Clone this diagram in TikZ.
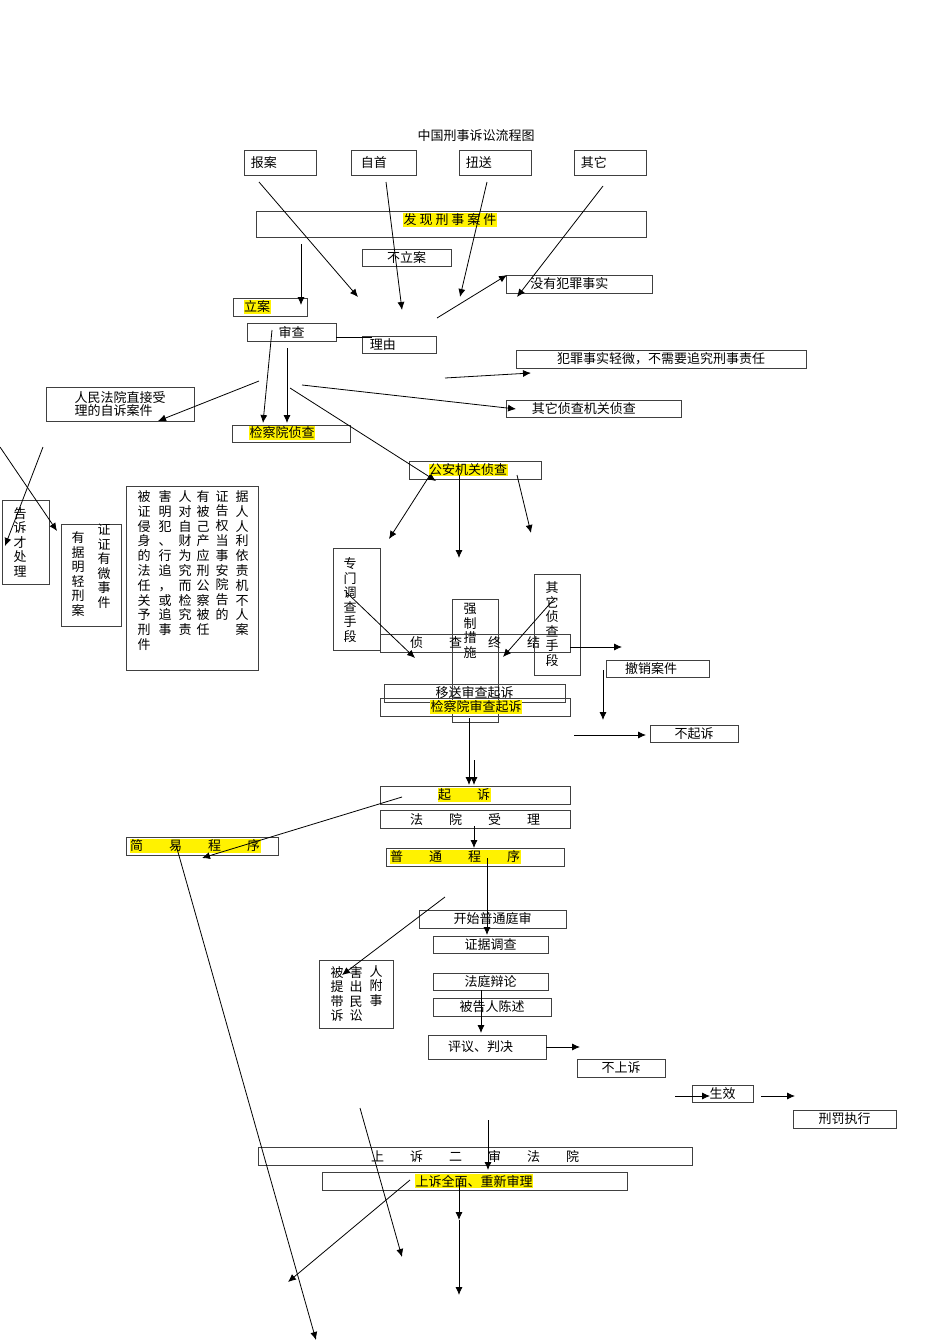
\documentclass[tikz,border=0pt]{standalone}
\usepackage{fontspec}
\setmainfont{Noto Sans CJK SC}
\begin{document}
\begin{tikzpicture}[x=1pt,y=-1pt,
 box/.style={draw=black!75,line width=0.7pt,inner sep=0pt,font=\fontsize{13}{14}\selectfont},
 hl/.style={fill=yellow,inner sep=0.5pt},
 ar/.style={-{Latex[length=8pt,width=7pt]},line width=0.8pt},
 vt/.style={align=center,font=\fontsize{13}{14.5}\selectfont}]
\usetikzlibrary{arrows.meta}
\useasboundingbox (0,0) rectangle (950,1344);
\newcommand\bx[6]{\node[box,minimum width=#4-#2,minimum height=#5-#3] (#1) at ({(#2+#4)/2},{(#3+#5)/2}) {#6};}
\node[font=\fontsize{13}{14}\selectfont] (title) at (476,136) {中国刑事诉讼流程图};
\bx{ba}{244}{150}{316}{175}{\hspace*{-2.5em}报案}
\bx{zs}{351}{150}{416}{175}{\hspace*{-1.5em}自首}
\bx{ns}{459}{150}{531}{175}{\hspace*{-2.5em}扭送}
\bx{qt}{574}{150}{646}{175}{\hspace*{-2.5em}其它}
\bx{fx}{256}{211}{646}{237}{}
\node[hl,font=\fontsize{13}{14}\selectfont] (fxt) at (450,220) {发 现 刑 事 案 件};
\bx{bla}{362}{249}{451}{266}{不立案}
\bx{myfz}{506}{275}{652}{293}{\hspace*{-1.5em}没有犯罪事实}
\bx{la}{233}{298}{307}{316}{}
\node[hl,font=\fontsize{13}{14}\selectfont] (lat) at (257,307) {立案};
\bx{sc}{247}{323}{336}{341}{审查}
\bx{ly}{362}{336}{436}{353}{\hspace*{-2.5em}理由}
\bx{qw}{516}{350}{806}{368}{犯罪事实轻微，不需要追究刑事责任}
\bx{zsa}{46}{387}{194}{421}{}
\node[align=left,font=\fontsize{13}{13}\selectfont] (zsat) at (120,404) {人民法院直接受\\理的自诉案件};
\bx{qtzc}{506}{400}{681}{417}{\hspace*{-1.5em}其它侦查机关侦查}
\bx{jcy}{232}{425}{350}{442}{}
\node[hl,font=\fontsize{13}{14}\selectfont] (jcyt) at (282,433) {检察院侦查};
\bx{gajg}{409}{461}{541}{479}{}
\node[hl,font=\fontsize{13}{14}\selectfont] (gat) at (468,470) {公安机关侦查};
\bx{gs}{2}{500}{49}{584}{}
\node[vt] at (20,542) {告\\诉\\才\\处\\理};
\bx{yzj}{61}{524}{121}{626}{}
\node[vt] at (78,574) {有\\据\\明\\轻\\刑\\案};
\node[vt] at (104,566) {证\\证\\有\\微\\事\\件};
\bx{big}{126}{486}{258}{670}{}
\foreach \c/\x in {{被\\证\\侵\\身\\的\\法\\任\\关\\予\\刑\\件}/144,{害\\明\\犯\\、\\行\\追\\，\\或\\追\\事}/165,{人\\对\\自\\财\\为\\究\\而\\检\\究\\责}/185,{有\\被\\己\\产\\应\\刑\\公\\察\\被\\任}/203,{证\\告\\权\\当\\事\\安\\院\\告\\的}/222,{据\\人\\人\\利\\依\\责\\机\\不\\人\\案}/242}
  \node[vt,anchor=north,font=\fontsize{13}{14.8}\selectfont] at (\x,487) {\c};
\bx{zmdc}{333}{548}{380}{650}{}
\node[vt] at (350,600) {专\\门\\调\\查\\手\\段};
\bx{qzcs}{452}{599}{498}{722}{}
\node[vt,anchor=north] at (470,600) {强\\制\\措\\施};
\bx{zczj}{380}{634}{570}{652}{侦\qquad 查\qquad 终\qquad 结};
\bx{qtzs}{534}{574}{580}{675}{}
\node[vt] at (552,624) {其\\它\\侦\\查\\手\\段};
\bx{cx}{606}{660}{709}{677}{\hspace*{-1em}撤销案件}
\bx{ys}{384}{684}{565}{702}{移送审查起诉}
\bx{jcsc}{380}{698}{570}{716}{}
\node[hl,font=\fontsize{13}{14}\selectfont] (jcst) at (476,707) {检察院审查起诉};
\bx{bqs}{650}{725}{738}{742}{不起诉}
\bx{qs}{380}{786}{570}{804}{}
\node[hl,font=\fontsize{13}{14}\selectfont] (qst) at (464,795) {起\qquad 诉};
\bx{fysl}{380}{810}{570}{828}{法\qquad 院\qquad 受\qquad 理}
\bx{jy}{126}{837}{278}{855}{}
\node[hl,font=\fontsize{13}{14}\selectfont] (jyt) at (195,846) {简\qquad 易\qquad 程\qquad 序};
\bx{pt}{386}{848}{564}{866}{}
\node[hl,font=\fontsize{13}{14}\selectfont] (ptt) at (455,857) {普\qquad 通\qquad 程\qquad 序};
\bx{ks}{419}{910}{566}{928}{开始普通庭审}
\bx{zjdc}{433}{936}{548}{953}{证据调查}
\bx{bhr}{319}{960}{393}{1028}{}
\node[vt] at (337,994) {被\\提\\带\\诉};
\node[vt] at (356,994) {害\\出\\民\\讼};
\node[vt] at (376,986) {人\\附\\事};
\bx{ftbl}{433}{973}{548}{990}{法庭辩论}
\bx{bgr}{433}{998}{551}{1016}{被告人陈述}
\bx{py}{428}{1035}{546}{1059}{\hspace*{-1em}评议、判决}
\bx{bss}{577}{1059}{665}{1077}{不上诉}
\bx{sx}{692}{1085}{753}{1102}{生效}
\bx{xf}{793}{1110}{896}{1128}{刑罚执行}
\bx{ss}{258}{1147}{692}{1165}{上\qquad 诉\qquad 二\qquad 审\qquad 法\qquad 院}
\bx{qm}{322}{1172}{627}{1190}{}
\node[hl,font=\fontsize{13}{14}\selectfont] (qmt) at (474,1181) {上诉全面、重新审理};
% connectors
\coordinate (a1) at (259,182); \coordinate (b1) at (358,297);
\coordinate (a2) at (386,182); \coordinate (b2) at (402,310);
\coordinate (a3) at (487,182); \coordinate (b3) at (460,297);
\coordinate (a4) at (603,186); \coordinate (b4) at (517,297);
\coordinate (a5) at (301,244); \coordinate (b5) at (301,305);
\coordinate (a6) at (437,318); \coordinate (b6) at (507,275);
\coordinate (a7) at (336,337); \coordinate (b7) at (372,337);
\coordinate (a8) at (445,378); \coordinate (b8) at (531,373);
\coordinate (a9) at (302,385); \coordinate (b9) at (516,409);
\coordinate (a10) at (259,381); \coordinate (b10) at (158,421);
\coordinate (a11) at (272,330); \coordinate (b11) at (263,423);
\coordinate (a12) at (287,348); \coordinate (b12) at (287,423);
\coordinate (a13) at (290,388); \coordinate (b13) at (436,481);
\coordinate (a14) at (0,447); \coordinate (b14) at (57,531);
\coordinate (a15) at (43,447); \coordinate (b15) at (5,546);
\coordinate (a16) at (430,475); \coordinate (b16) at (389,539);
\coordinate (a17) at (459,475); \coordinate (b17) at (459,558);
\coordinate (a18) at (517,475); \coordinate (b18) at (531,533);
\coordinate (a19) at (346,592); \coordinate (b19) at (415,658);
\coordinate (a20) at (555,598); \coordinate (b20) at (503,657);
\coordinate (a21) at (570,647); \coordinate (b21) at (622,647);
\coordinate (a22) at (603,670); \coordinate (b22) at (603,720);
\coordinate (a23) at (574,735); \coordinate (b23) at (646,735);
\coordinate (a24) at (469,718); \coordinate (b24) at (469,785);
\coordinate (a25) at (474,760); \coordinate (b25) at (474,785);
\coordinate (a26) at (402,797); \coordinate (b26) at (202,858);
\coordinate (a27) at (474,826); \coordinate (b27) at (474,848);
\coordinate (a28) at (487,858); \coordinate (b28) at (487,935);
\coordinate (a29) at (445,897); \coordinate (b29) at (342,975);
\coordinate (a30) at (481,990); \coordinate (b30) at (481,1033);
\coordinate (a31) at (546,1047); \coordinate (b31) at (580,1047);
\coordinate (a32) at (675,1096); \coordinate (b32) at (710,1096);
\coordinate (a33) at (761,1096); \coordinate (b33) at (795,1096);
\coordinate (a34) at (360,1108); \coordinate (b34) at (402,1257);
\coordinate (a35) at (488,1120); \coordinate (b35) at (488,1170);
\coordinate (a36) at (176,845); \coordinate (b36) at (316,1340);
\coordinate (a37) at (410,1180); \coordinate (b37) at (288,1282);
\coordinate (a38) at (459,1180); \coordinate (b38) at (459,1220);
\coordinate (a39) at (459,1220); \coordinate (b39) at (459,1295);
\foreach \i in {1,2,3,4,5,6,8,9,10,11,12,13,14,15,16,17,18,19,20,21,22,23,24,25,26,27,28,29,30,31,32,33,34,35,36,37,38,39}
  \draw[ar] (a\i) -- (b\i);
\draw[line width=0.8pt] (a7) -- (b7);
\end{tikzpicture}
\end{document}
